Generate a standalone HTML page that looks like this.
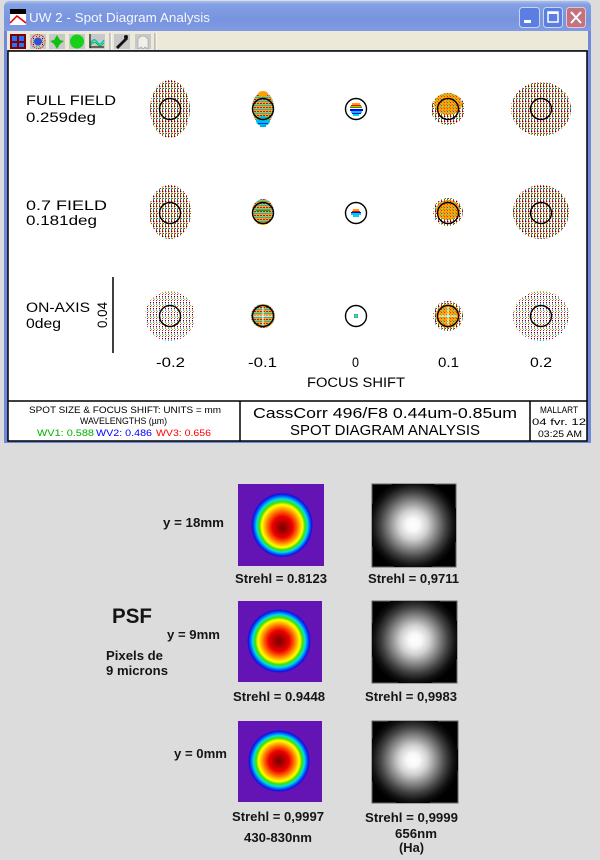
<!DOCTYPE html>
<html><head><meta charset="utf-8"><style>
html,body{margin:0;padding:0;background:#dcdcdc;width:600px;height:860px;overflow:hidden}
svg{display:block}
.z{font-family:"Liberation Sans",sans-serif;fill:#000}
.b{font-family:"Liberation Sans",sans-serif;font-weight:bold;fill:#151515;font-size:13px}
</style></head><body>
<svg width="600" height="860" viewBox="0 0 600 860" xmlns="http://www.w3.org/2000/svg">
<defs>
<linearGradient id="tb" x1="0" y1="0" x2="0" y2="1">
<stop offset="0" stop-color="#a9bff1"/><stop offset="0.12" stop-color="#83a0e4"/>
<stop offset="0.6" stop-color="#7894df"/><stop offset="1" stop-color="#809be2"/>
</linearGradient>
<pattern id="sp" width="3" height="5" patternUnits="userSpaceOnUse">
<rect x="0" y="0" width="1" height="1" fill="#ff0000"/><rect x="0" y="1" width="1" height="1" fill="#0000ff"/>
<rect x="0" y="2" width="1" height="1" fill="#ffa000"/><rect x="0" y="3" width="1" height="1" fill="#00c8c8"/>
<rect x="0" y="4" width="1" height="1" fill="#00a000"/><rect x="1" y="1" width="1" height="1" fill="#ffa000"/>
<rect x="1" y="3" width="1" height="1" fill="#ff0000"/>
</pattern>
<pattern id="sq" width="3" height="6" patternUnits="userSpaceOnUse">
<rect x="0" y="0" width="1" height="1" fill="#ff0000"/><rect x="0" y="2" width="1" height="1" fill="#0000ff"/>
<rect x="0" y="4" width="1" height="1" fill="#00c8c8"/><rect x="1" y="5" width="1" height="1" fill="#ffa000"/>
<rect x="0" y="3" width="1" height="1" fill="#ffa000"/>
</pattern>
<pattern id="pd" width="3" height="4" patternUnits="userSpaceOnUse">
<rect width="3" height="4" fill="#ffa500"/><rect y="1" width="3" height="1" fill="#00c0d8"/>
<rect x="0" y="3" width="1" height="1" fill="#ff0000"/><rect x="2" y="3" width="1" height="1" fill="#2040ff"/>
</pattern>
<pattern id="po" width="3" height="3" patternUnits="userSpaceOnUse">
<rect width="3" height="3" fill="#ffa500"/><rect x="0" y="0" width="1" height="1" fill="#ff2000"/>
<rect x="2" y="2" width="1" height="1" fill="#00c0c0"/>
</pattern>
<radialGradient id="rb" gradientUnits="objectBoundingBox" cx="0.5" cy="0.5" r="0.5">
<stop offset="0" stop-color="#780000"/><stop offset="0.15" stop-color="#a80000"/>
<stop offset="0.33" stop-color="#ee0000"/><stop offset="0.48" stop-color="#ff6a00"/>
<stop offset="0.6" stop-color="#ffd200"/><stop offset="0.66" stop-color="#ffff00"/>
<stop offset="0.74" stop-color="#40e000"/><stop offset="0.82" stop-color="#00e0e0"/>
<stop offset="0.9" stop-color="#0060ff"/><stop offset="0.96" stop-color="#1010e0"/>
<stop offset="1" stop-color="#6414b4"/>
</radialGradient>
<radialGradient id="rb1" gradientUnits="objectBoundingBox" cx="0.5" cy="0.5" fx="0.51" fy="0.55" r="0.5">
<stop offset="0" stop-color="#780000"/><stop offset="0.15" stop-color="#a80000"/>
<stop offset="0.33" stop-color="#ee0000"/><stop offset="0.48" stop-color="#ff6a00"/>
<stop offset="0.6" stop-color="#ffd200"/><stop offset="0.66" stop-color="#ffff00"/>
<stop offset="0.74" stop-color="#40e000"/><stop offset="0.82" stop-color="#00e0e0"/>
<stop offset="0.9" stop-color="#0060ff"/><stop offset="0.96" stop-color="#1010e0"/>
<stop offset="1" stop-color="#6414b4"/>
</radialGradient>
<radialGradient id="gw" gradientUnits="objectBoundingBox" cx="0.5" cy="0.5" r="0.5">
<stop offset="0" stop-color="#ffffff"/><stop offset="0.14" stop-color="#f8f8f8"/>
<stop offset="0.32" stop-color="#d0d0d0"/><stop offset="0.52" stop-color="#888888"/>
<stop offset="0.72" stop-color="#404040"/><stop offset="0.88" stop-color="#121212"/>
<stop offset="1" stop-color="#000000"/>
</radialGradient>
<clipPath id="c1"><rect x="372" y="484" width="84" height="83"/></clipPath>
<clipPath id="c2"><rect x="372" y="601" width="85" height="82"/></clipPath>
<clipPath id="c3"><rect x="372" y="721" width="86" height="82"/></clipPath>
</defs>

<rect width="600" height="860" fill="#dcdcdc"/>

<!-- Window -->
<path d="M4,443 V8 Q4,1 11,1 H584 Q591,1 591,8 V443 Z" fill="#6f88d8"/>
<path d="M4,31 V8 Q4,1 11,1 H584 Q591,1 591,8 V31 Z" fill="url(#tb)"/>
<rect x="7" y="31" width="581" height="19" fill="#ece9d8"/>
<rect x="8" y="51" width="579" height="390" fill="#ffffff" stroke="#000" stroke-width="1.5"/>

<!-- title icon and text -->
<rect x="10" y="9" width="16" height="16" fill="#ffffff"/>
<rect x="10" y="9" width="16" height="5" fill="#000"/>
<polyline points="10,23 17,16 26,23" fill="none" stroke="#e00000" stroke-width="1.5"/>
<text x="29" y="22" font-family="Liberation Sans, sans-serif" font-size="13" fill="#f4f7ff" textLength="181" lengthAdjust="spacingAndGlyphs">UW 2 - Spot Diagram Analysis</text>

<!-- title buttons -->
<rect x="519.5" y="7.5" width="20" height="20" rx="3" fill="#5a7ee2" stroke="#c9d5f5"/>
<rect x="524" y="20" width="7" height="3" fill="#fff"/>
<rect x="543.5" y="7.5" width="19" height="20" rx="3" fill="#5a7ee2" stroke="#c9d5f5"/>
<rect x="548" y="12" width="10" height="10" fill="none" stroke="#fff" stroke-width="1.5"/>
<rect x="548" y="12" width="10" height="2" fill="#fff"/>
<rect x="566.5" y="7.5" width="19" height="20" rx="3" fill="#c3737f" stroke="#e6c6cc"/>
<path d="M571,12 L581,23 M581,12 L571,23" stroke="#fff" stroke-width="2"/>

<!-- toolbar icons -->
<rect x="10" y="34" width="16" height="15" fill="#800000"/>
<rect x="12" y="36" width="5" height="5" fill="#2a70ff"/><rect x="19" y="36" width="5" height="5" fill="#2a70ff"/>
<rect x="12" y="43" width="5" height="4" fill="#2a70ff"/><rect x="19" y="43" width="5" height="4" fill="#2a70ff"/>
<rect x="30" y="34" width="16" height="15" fill="#c8c8c8"/>
<circle cx="38" cy="41.5" r="7" fill="url(#sq)" stroke="#d02020" stroke-dasharray="1,1"/>
<circle cx="38" cy="41.5" r="4" fill="#3050d0"/>
<rect x="49" y="34" width="16" height="15" fill="#c8c8c8"/>
<path d="M57,35 L60,40 L64,41 L60,44 L57,49 L54,44 L50,41 L54,40 Z" fill="#10c010"/>
<rect x="69" y="34" width="16" height="15" fill="#c8c8c8"/>
<circle cx="77" cy="41.5" r="7" fill="#18d018"/>
<rect x="89" y="34" width="16" height="15" fill="#c8c8c8"/>
<path d="M90,47 H104 M90,34 V48" stroke="#000" stroke-width="1"/>
<path d="M91,43 Q94,37 97,42 T104,40" fill="none" stroke="#00c8c8" stroke-width="1.5"/>
<path d="M91,45 Q94,40 97,44 T104,43" fill="none" stroke="#10c010" stroke-width="1"/>
<line x1="110" y1="33" x2="110" y2="50" stroke="#999"/><line x1="111" y1="33" x2="111" y2="50" stroke="#fff"/>
<rect x="114" y="34" width="16" height="15" fill="#c8c8c8"/>
<path d="M116,47 L126,37 L128,39 L118,49 Z" fill="#111"/><circle cx="126" cy="37" r="2" fill="#111"/>
<rect x="135" y="34" width="16" height="15" fill="#c8c8c8"/>
<path d="M138,49 V39 Q143,33 148,39 V49 L145,47 L143,49 L141,47 Z" fill="#f0f0e8" stroke="#aaa" stroke-width="0.7"/>
<line x1="155" y1="33" x2="155" y2="50" stroke="#999"/><line x1="156" y1="33" x2="156" y2="50" stroke="#fff"/>

<!-- Row labels -->
<g class="z" font-size="13.5">
<text x="26" y="105" textLength="90" lengthAdjust="spacingAndGlyphs">FULL FIELD</text>
<text x="26" y="122" textLength="70" lengthAdjust="spacingAndGlyphs">0.259deg</text>
<text x="26" y="210" textLength="81" lengthAdjust="spacingAndGlyphs">0.7 FIELD</text>
<text x="26" y="225" textLength="71" lengthAdjust="spacingAndGlyphs">0.181deg</text>
<text x="26" y="312" textLength="64" lengthAdjust="spacingAndGlyphs">ON-AXIS</text>
<text x="26" y="328" textLength="35" lengthAdjust="spacingAndGlyphs">0deg</text>
<text transform="translate(107,328) rotate(-90)" textLength="26" lengthAdjust="spacingAndGlyphs">0.04</text>
<text x="156" y="367" textLength="29" lengthAdjust="spacingAndGlyphs">-0.2</text>
<text x="248" y="367" textLength="29" lengthAdjust="spacingAndGlyphs">-0.1</text>
<text x="352" y="367" textLength="7" lengthAdjust="spacingAndGlyphs">0</text>
<text x="438" y="367" textLength="21" lengthAdjust="spacingAndGlyphs">0.1</text>
<text x="530" y="367" textLength="22" lengthAdjust="spacingAndGlyphs">0.2</text>
<text x="307" y="387" textLength="98" lengthAdjust="spacingAndGlyphs">FOCUS SHIFT</text>
</g>
<line x1="113" y1="277" x2="113" y2="353" stroke="#000" stroke-width="1.5"/>

<!-- Row 1 spots (cy=109) -->
<ellipse cx="170" cy="109" rx="20" ry="29" fill="url(#sp)"/>
<ellipse cx="263" cy="108" rx="11" ry="16" fill="url(#pd)"/>
<ellipse cx="263" cy="121" rx="7" ry="5" fill="#00c0e0"/>
<rect x="258" y="123" width="10" height="1" fill="#0030ff"/>
<rect x="260" y="125" width="6" height="2" fill="#00b0e0"/>
<ellipse cx="263" cy="94" rx="5" ry="3" fill="#ffa000"/>
<g>
<rect x="352" y="103" width="8" height="2" fill="#ffa000"/>
<rect x="351" y="105" width="10" height="1" fill="#ff0000"/>
<rect x="350" y="106" width="12" height="1" fill="#ffa000"/>
<rect x="350" y="107" width="12" height="1" fill="#00b000"/>
<rect x="350" y="109" width="13" height="2" fill="#0000ff"/>
<rect x="351" y="111" width="11" height="2" fill="#00c8f0"/>
<rect x="352" y="113" width="9" height="1" fill="#0000ff"/>
<rect x="353" y="114" width="6" height="2" fill="#00d8d8"/>
</g>
<ellipse cx="448" cy="109" rx="17" ry="16" fill="url(#sp)"/>
<ellipse cx="448" cy="104" rx="14" ry="11" fill="url(#po)"/>
<ellipse cx="541" cy="109" rx="30" ry="27" fill="url(#sp)"/>

<!-- Row 2 spots (cy=213) -->
<ellipse cx="170" cy="212" rx="21" ry="27" fill="url(#sp)"/>
<ellipse cx="263" cy="212" rx="11" ry="13" fill="url(#pd)"/>
<rect x="256" y="210" width="14" height="1" fill="#00b000"/>
<g>
<rect x="353" y="209" width="6" height="2" fill="#ffa000"/>
<rect x="352" y="211" width="8" height="1" fill="#ff0000"/>
<rect x="351" y="212" width="10" height="1" fill="#0000ff"/>
<rect x="351" y="213" width="10" height="2" fill="#00c8f0"/>
<rect x="353" y="215" width="6" height="2" fill="#00d8d8"/>
</g>
<ellipse cx="448" cy="212" rx="15" ry="14" fill="url(#sp)"/>
<ellipse cx="448" cy="210" rx="12" ry="10" fill="url(#po)"/>
<ellipse cx="541" cy="212" rx="28" ry="27" fill="url(#sp)"/>

<!-- Row 3 spots (cy=316) -->
<circle cx="170" cy="316" r="25" fill="url(#sq)"/>
<circle cx="263" cy="316" r="12" fill="url(#pd)"/>
<path d="M252,316 H274 M263,305 V327" stroke="#fff" stroke-width="1"/>
<rect x="354" y="314" width="4" height="4" fill="#00c8c8"/><rect x="355" y="315" width="2" height="2" fill="#ffa000"/>
<circle cx="448" cy="316" r="15" fill="url(#sp)"/>
<circle cx="448" cy="316" r="12" fill="url(#po)"/>
<path d="M437,316 H459 M448,305 V327" stroke="#fff" stroke-width="1"/>
<ellipse cx="541" cy="316" rx="28" ry="25" fill="url(#sq)"/>

<!-- circles -->
<g fill="none" stroke="#000" stroke-width="1.4">
<circle cx="170" cy="109" r="10.5"/><circle cx="263" cy="109" r="10.5"/><circle cx="356" cy="109" r="10.5"/><circle cx="448" cy="109" r="10.5"/><circle cx="541" cy="109" r="10.5"/>
<circle cx="170" cy="213" r="10.5"/><circle cx="263" cy="213" r="10.5"/><circle cx="356" cy="213" r="10.5"/><circle cx="448" cy="213" r="10.5"/><circle cx="541" cy="213" r="10.5"/>
<circle cx="170" cy="316" r="10.5"/><circle cx="263" cy="316" r="10.5"/><circle cx="356" cy="316" r="10.5"/><circle cx="448" cy="316" r="10.5"/><circle cx="541" cy="316" r="10.5"/>
</g>

<!-- info box -->
<line x1="8" y1="401" x2="587" y2="401" stroke="#000" stroke-width="1.5"/>
<line x1="240" y1="401" x2="240" y2="441" stroke="#000" stroke-width="1.5"/>
<line x1="530" y1="401" x2="530" y2="441" stroke="#000" stroke-width="1.5"/>
<g font-family="Liberation Sans, sans-serif" font-size="9">
<text x="29" y="413" textLength="192" lengthAdjust="spacingAndGlyphs" fill="#000">SPOT SIZE &amp; FOCUS SHIFT: UNITS = mm</text>
<text x="80" y="424" textLength="87" lengthAdjust="spacingAndGlyphs" fill="#000">WAVELENGTHS (µm)</text>
<text x="37" y="436" textLength="57" lengthAdjust="spacingAndGlyphs" fill="#00b000">WV1: 0.588</text>
<text x="96" y="436" textLength="56" lengthAdjust="spacingAndGlyphs" fill="#0000ff">WV2: 0.486</text>
<text x="156" y="436" textLength="55" lengthAdjust="spacingAndGlyphs" fill="#ff0000">WV3: 0.656</text>
<text x="540" y="413" textLength="38" lengthAdjust="spacingAndGlyphs" fill="#000">MALLART</text>
<text x="532" y="425" textLength="54" lengthAdjust="spacingAndGlyphs" fill="#000">04 fvr. 12</text>
<text x="538" y="437" textLength="44" lengthAdjust="spacingAndGlyphs" fill="#000">03:25 AM</text>
</g>
<g font-family="Liberation Sans, sans-serif" font-size="15" fill="#000">
<text x="253" y="418" textLength="264" lengthAdjust="spacingAndGlyphs">CassCorr 496/F8 0.44um-0.85um</text>
<text x="290" y="435" textLength="190" lengthAdjust="spacingAndGlyphs">SPOT DIAGRAM ANALYSIS</text>
</g>

<!-- PSF images -->
<rect x="238" y="484" width="86" height="82" fill="#6414b4"/>
<ellipse cx="282" cy="525" rx="43" ry="45" fill="url(#rb1)" transform="translate(282 525) scale(0.72) translate(-282 -525)"/>
<rect x="238" y="601" width="84" height="81" fill="#6414b4"/>
<circle cx="279" cy="641" r="32" fill="url(#rb)"/>
<rect x="238" y="721" width="84" height="81" fill="#6414b4"/>
<circle cx="279" cy="761" r="31" fill="url(#rb)"/>

<rect x="372" y="484" width="84" height="83" fill="#000" stroke="#666" stroke-width="1"/>
<circle cx="413" cy="525" r="46" fill="url(#gw)" clip-path="url(#c1)"/>
<rect x="372" y="601" width="85" height="82" fill="#000" stroke="#666" stroke-width="1"/>
<circle cx="415" cy="640" r="46" fill="url(#gw)" clip-path="url(#c2)"/>
<rect x="372" y="721" width="86" height="82" fill="#000" stroke="#666" stroke-width="1"/>
<circle cx="413" cy="760" r="46" fill="url(#gw)" clip-path="url(#c3)"/>

<!-- PSF labels -->
<text class="b" x="163" y="527" textLength="61" lengthAdjust="spacingAndGlyphs">y = 18mm</text>
<text class="b" x="235" y="583" textLength="92" lengthAdjust="spacingAndGlyphs">Strehl = 0.8123</text>
<text class="b" x="368" y="583" textLength="91" lengthAdjust="spacingAndGlyphs">Strehl = 0,9711</text>
<text class="b" x="112" y="623" style="font-size:21px" textLength="40" lengthAdjust="spacingAndGlyphs">PSF</text>
<text class="b" x="167" y="639" textLength="53" lengthAdjust="spacingAndGlyphs">y = 9mm</text>
<text class="b" x="106" y="660" textLength="57" lengthAdjust="spacingAndGlyphs">Pixels de</text>
<text class="b" x="106" y="675" textLength="62" lengthAdjust="spacingAndGlyphs">9 microns</text>
<text class="b" x="233" y="701" textLength="92" lengthAdjust="spacingAndGlyphs">Strehl = 0.9448</text>
<text class="b" x="365" y="701" textLength="92" lengthAdjust="spacingAndGlyphs">Strehl = 0,9983</text>
<text class="b" x="174" y="758" textLength="53" lengthAdjust="spacingAndGlyphs">y = 0mm</text>
<text class="b" x="232" y="821" textLength="92" lengthAdjust="spacingAndGlyphs">Strehl = 0,9997</text>
<text class="b" x="244" y="842" textLength="68" lengthAdjust="spacingAndGlyphs">430-830nm</text>
<text class="b" x="365" y="822" textLength="93" lengthAdjust="spacingAndGlyphs">Strehl = 0,9999</text>
<text class="b" x="395" y="838" textLength="42" lengthAdjust="spacingAndGlyphs">656nm</text>
<text class="b" x="399" y="852" textLength="25" lengthAdjust="spacingAndGlyphs">(Ha)</text>
</svg>
</body></html>
